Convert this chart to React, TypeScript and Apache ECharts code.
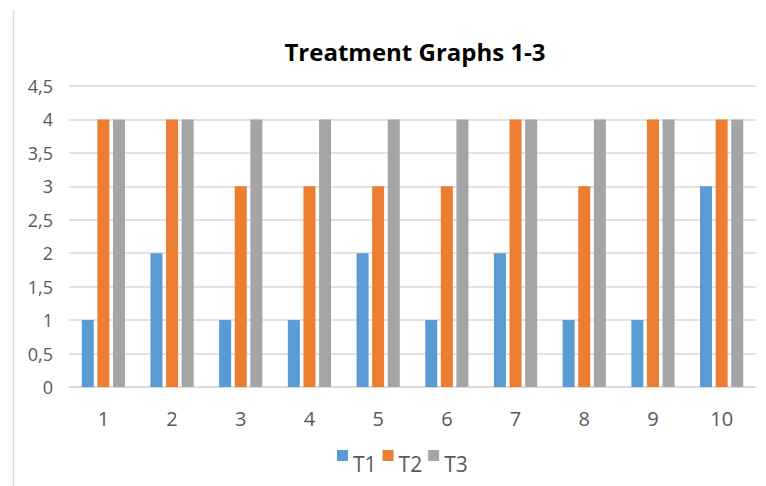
import React, { useEffect, useRef } from "react";
import * as echarts from "echarts";

const categories = ["1", "2", "3", "4", "5", "6", "7", "8", "9", "10"];
const t1Values = [1, 2, 1, 1, 2, 1, 2, 1, 1, 3];
const t2Values = [4, 4, 3, 3, 3, 3, 4, 3, 4, 4];
const t3Values = [4, 4, 4, 4, 4, 4, 4, 4, 4, 4];
const seriesNames = ["T1", "T2", "T3"];
const colors = ["#5B9BD5", "#ED7D31", "#A5A5A5"];

const FONT = "'Open Sans', 'Noto Sans', sans-serif";

export default function App() {
  const ref = useRef<HTMLDivElement>(null);
  useEffect(() => {
    if (!ref.current) return;
    const chart = echarts.init(ref.current, undefined, { renderer: "svg" });
    const values = [t1Values, t2Values, t3Values];
    chart.setOption({
      animation: false,
      backgroundColor: "#ffffff",
      title: {
        text: "Treatment Graphs 1-3",
        left: 410,
        top: 34,
        textAlign: "center",
        textStyle: { fontFamily: FONT, fontWeight: "bold", fontSize: 24, color: "#000000" },
      },
      graphic: [
        {
          type: "line",
          shape: { x1: 13.5, y1: 10, x2: 13.5, y2: 486 },
          style: { stroke: "#D9D9D9", lineWidth: 1.5 },
        },
      ],
      legend: {
        data: seriesNames,
        top: 450,
        left: 337,
        padding: 0,
        itemWidth: 11,
        itemHeight: 11,
        itemGap: 6,
        icon: "rect",
        formatter: (name: string) => `{t|${name}}`,
        textStyle: {
          fontFamily: FONT,
          fontSize: 21,
          color: "#595959",
          rich: {
            t: {
              fontFamily: FONT,
              fontSize: 21,
              color: "#595959",
              padding: [16, 0, 0, 0],
            },
          },
        },
      },
      grid: { left: 69, right: 10, top: 86, bottom: 99 },
      xAxis: {
        type: "category",
        data: categories,
        axisLine: { lineStyle: { color: "#D9D9D9", width: 1.5 } },
        axisTick: { show: false },
        axisLabel: { fontFamily: FONT, fontSize: 20, color: "#595959", margin: 21 },
      },
      yAxis: {
        type: "value",
        min: 0,
        max: 4.5,
        interval: 0.5,
        axisLine: { show: false },
        axisTick: { show: false },
        splitLine: { lineStyle: { color: "#D9D9D9", width: 1.5 } },
        axisLabel: {
          fontFamily: FONT,
          fontSize: 18,
          color: "#595959",
          margin: 16,
          formatter: (v: number) => String(v).replace(".", ","),
        },
      },
      series: seriesNames.map((name, i) => ({
        name,
        type: "bar",
        data: values[i],
        barWidth: 12,
        barGap: "30%",
        itemStyle: { color: colors[i] },
      })),
    });
    return () => chart.dispose();
  }, []);
  return (
    <div
      ref={ref}
      style={{ position: "fixed", left: 0, top: 0, width: 766, height: 486 }}
    />
  );
}
